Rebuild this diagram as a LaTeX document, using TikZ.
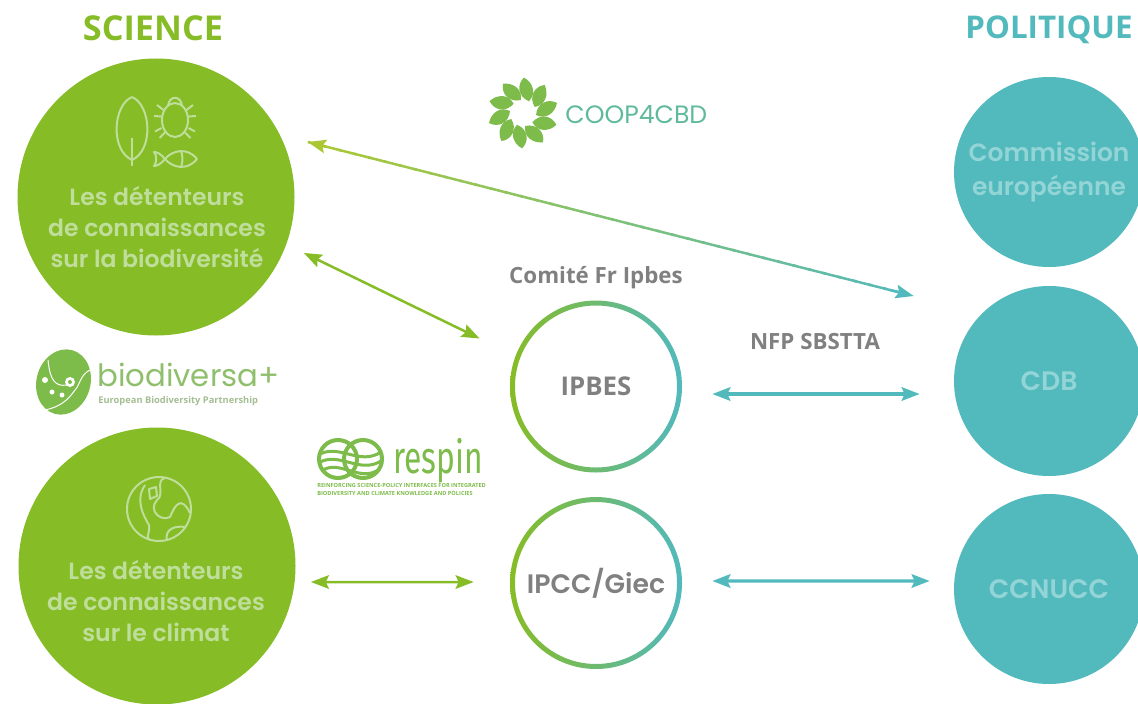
\documentclass[tikz,border=0pt]{standalone}
\usepackage{fontspec}
\usepackage{xcolor}
\setmainfont{Open Sans}
\newfontfamily\popfont[BoldFont={* SemiBold}]{Poppins}
\newfontfamily\firafont{Fira Sans}
\usetikzlibrary{calc, arrows.meta}

\definecolor{scigreen}{HTML}{86BC25}
\definecolor{polteal}{HTML}{52B9BD}
\definecolor{scitext}{HTML}{C0DE9B}
\definecolor{poltext}{HTML}{93D5D6}
\definecolor{greytext}{HTML}{808080}
\definecolor{arrowolive}{HTML}{ABC834}
\definecolor{logogreen}{HTML}{7DBB4A}
\definecolor{logotext}{HTML}{8FBF6C}
\definecolor{logosub}{HTML}{A3BE92}

\tikzset{
    headtip/.style={-{Stealth[length=0.36cm, width=0.27cm, inset=0.06cm]}},
    bothtips/.style={{Stealth[length=0.36cm, width=0.27cm, inset=0.06cm]}-{Stealth[length=0.36cm, width=0.27cm, inset=0.06cm]}},
    greenball/.style={circle, fill=scigreen, minimum size=5.54cm, inner sep=0pt},
    tealball/.style={circle, fill=polteal, minimum size=3.8cm, inner sep=0pt, align=center, text=poltext, font=\popfont\bfseries\fontsize{15.2}{19.4}\selectfont},
    ringball/.style={circle, minimum size=3.44cm, inner sep=0pt, text=greytext},
    balltext/.style={align=center, text=scitext, font=\popfont\bfseries\fontsize{13.4}{17.6}\selectfont},
    heading/.style={font=\bfseries\fontsize{19.5}{22}\selectfont},
    greylabel/.style={text=greytext, font=\bfseries\fontsize{12.7}{14}\selectfont},
    icon/.style={draw=scitext, line width=0.04cm, line join=round},
    sciarrow/.style={draw=scigreen, fill=scigreen, line width=0.05cm, bothtips},
    polarrow/.style={draw=polteal, fill=polteal, line width=0.065cm, bothtips},
}

\begin{document}
\begin{tikzpicture}
        \useasboundingbox (0,0) rectangle (22.76,-14.06);

        %% Headings
        \node (science) [heading, text=scigreen] at (3.06,-0.56) {SCIENCE};
        \node (politique) [heading, text=polteal, font=\bfseries\fontsize{17.8}{22}\selectfont] at (20.98,-0.6) {POLITIQUE};

        %% Left circles
        \node (biodiv) [greenball] at (3.12,-3.94) {};
        \node (climat) [greenball] at (3.14,-11.32) {};
        \node (biodivtext) [balltext] at (3.14,-4.54) {Les détenteurs\\de connaissances\\sur la biodiversité};
        \node (climattext) [balltext] at (3.12,-12.02) {Les détenteurs\\de connaissances\\sur le climat};

        %% Right circles
        \node (commission) [tealball, font=\popfont\bfseries\fontsize{14.2}{19.4}\selectfont] at (20.98,-3.44) {Commission\\européenne};
        \node (cdb) [tealball] at (20.98,-7.62) {\raisebox{-0.05cm}{CDB}};
        \node (ccnucc) [tealball] at (20.98,-11.78) {\raisebox{-0.05cm}{CCNUCC}};

        %% Rings
        \node (ipbes) [ringball, font=\bfseries\fontsize{14.7}{16}\selectfont] at (11.92,-7.73) {IPBES};
        \node (ipcc) [ringball, font=\popfont\bfseries\fontsize{15.2}{16}\selectfont] at (11.92,-11.66) {IPCC/Giec};
        \shade [left color=scigreen, right color=polteal, even odd rule] (ipbes.center) circle (1.72) (ipbes.center) circle (1.62);
        \shade [left color=scigreen, right color=polteal, even odd rule] (ipcc.center) circle (1.72) (ipcc.center) circle (1.62);

        %% Labels
        \node (comite) [greylabel] at (11.92,-5.56) {Comité Fr Ipbes};
        \node (nfp) [greylabel] at (16.3,-6.84) {NFP SBSTTA};

        %% Arrows
        \draw [sciarrow] ($(biodiv.east) + (0.18,-1.12)$) -- ($(ipbes.west) + (-0.6,0.96)$);
        \draw [sciarrow] ($(climat.east) + (0.3,-0.32)$) -- ($(ipcc.west) + (-0.72,0.02)$);
        \draw [polarrow] ($(ipbes.east) + (0.6,-0.15)$) -- ($(cdb.west) + (-0.68,-0.26)$);
        \draw [polarrow] ($(ipcc.east) + (0.6,0.04)$) -- ($(ccnucc.west) + (-0.48,0.16)$);

        %% Long arrow, green to teal
        \coordinate (longstart) at ($(biodiv.east) + (0.26,1.1)$);
        \coordinate (longend) at ($(cdb.west) + (-0.8,1.7)$);
        \foreach \t in {0,...,38}{
            \pgfmathsetmacro{\mixval}{100-\t*2.5}
            \colorlet{segcolor}{arrowolive!\mixval!polteal}
            \draw [segcolor, line width=0.05cm] ($(longstart)!\t/40!(longend)$) -- ($(longstart)!\t/40+0.03!(longend)$);
        }
        \draw [arrowolive, fill=arrowolive, line width=0.05cm, {Stealth[length=0.36cm, width=0.27cm, inset=0.06cm]}-] (longstart) -- ($(longstart)!0.03!(longend)$);
        \draw [polteal, fill=polteal, line width=0.05cm, headtip] ($(longstart)!0.96!(longend)$) -- (longend);

        %% Leaf, bug, fish
        \draw [icon] (2.64,-1.94) .. controls (2.26,-2.1) and (2.2,-3.0) .. (2.64,-3.2) .. controls (3.08,-3.0) and (3.02,-2.1) .. (2.64,-1.94);
        \draw [icon] (2.64,-2.76) -- (2.64,-3.32);
        \draw [icon] (3.5,-2.4) ellipse (0.26 and 0.34);
        \draw [icon] (3.36,-2.12) .. controls (3.38,-1.9) and (3.62,-1.9) .. (3.64,-2.12);
        \foreach \xa/\ya/\xb/\yb in {3.14/-2.1/3.27/-2.2, 3.08/-2.32/3.23/-2.33, 3.1/-2.63/3.23/-2.56, 3.19/-2.76/3.3/-2.65}{
            \draw [icon] (\xa,\ya) -- (\xb,\yb);
            \draw [icon] ({7-\xa},\ya) -- ({7-\xb},\yb);
        }
        \draw [icon] (3.94,-3.18) .. controls (3.75,-2.94) and (3.45,-3.0) .. (3.3,-3.18) .. controls (3.22,-3.08) and (3.14,-3.04) .. (3.08,-3.04) .. controls (3.14,-3.12) and (3.14,-3.24) .. (3.08,-3.32) .. controls (3.14,-3.32) and (3.22,-3.28) .. (3.3,-3.18) .. controls (3.45,-3.36) and (3.75,-3.42) .. (3.94,-3.18);
        \draw [icon] (3.62,-3.02) .. controls (3.66,-3.12) and (3.66,-3.24) .. (3.62,-3.34);

        %% Globe
        \draw [icon] (3.18,-10.18) circle (0.64);
        \draw [icon] (2.9,-9.7) .. controls (2.7,-10.0) and (2.86,-10.3) .. (2.98,-10.5) .. controls (3.0,-10.7) and (2.9,-10.74) .. (3.0,-10.8);
        \draw [icon] (3.3,-9.56) .. controls (3.1,-9.6) and (3.3,-9.9) .. (3.14,-10.0) .. controls (2.96,-10.2) and (3.2,-10.44) .. (3.4,-10.34) .. controls (3.5,-10.1) and (3.62,-9.9) .. (3.8,-10.26);
        \draw [icon] (3.7,-10.54) .. controls (3.4,-10.5) and (3.3,-10.66) .. (3.34,-10.8);
        \draw [icon] (2.98,-9.78) -- (3.12,-9.74) -- (3.14,-9.92) -- (3.0,-9.98) -- cycle;

        %% Coop4cbd logo
        \foreach \a in {0,36,...,324}{
            \fill [logogreen, shift={(10.46,-2.26)}, rotate=\a] (0.26,-0.04) .. controls (0.28,0.2) and (0.5,0.3) .. (0.68,0.2) .. controls (0.64,0) and (0.46,-0.14) .. (0.26,-0.04);
        }
        \node (coop) [anchor=west, inner sep=0pt, text=polteal!70!logogreen, font=\popfont\fontsize{14.3}{15}\selectfont] at (11.3,-2.3) {COOP4CBD};

        %% Biodiversa logo
        \fill [logogreen, rotate around={-15:(1.27,-7.64)}] (1.27,-7.64) ellipse (0.54 and 0.66);
        \draw [white, line width=0.02cm] (0.96,-7.2) .. controls (1.0,-7.6) and (1.1,-7.74) .. (1.34,-7.7);
        \draw [white, line width=0.02cm] (1.8,-7.4) .. controls (1.6,-7.5) and (1.6,-7.7) .. (1.5,-7.8) .. controls (1.36,-8.0) and (1.2,-8.14) .. (0.9,-8.2);
        \fill [white] (1.4,-7.64) circle (0.1);
        \fill [logogreen] (1.4,-7.64) circle (0.04);
        \fill [white] (0.9,-7.6) circle (0.06) (1.04,-7.84) circle (0.05) (1.24,-7.9) circle (0.05);
        \node (biodiversa) [anchor=west, inner sep=0pt, text depth=0pt, text=logotext, font=\popfont\fontsize{17.5}{18}\selectfont] at (1.94,-7.5) {biodiversa+};
        \node (partnership) [anchor=west, inner sep=0pt, text=logosub, font=\bfseries\fontsize{5.3}{6}\selectfont] at (1.96,-8.03) {European Biodiversity Partnership};

        %% Respin logo
        \draw [logogreen, line width=0.08cm] (6.76,-9.18) circle (0.38);
        \draw [logogreen, line width=0.08cm] (7.26,-9.18) circle (0.38);
        \draw [logogreen, line width=0.06cm] (6.4,-9.08) .. controls (6.8,-8.88) and (7.2,-9.32) .. (7.62,-9.04);
        \draw [logogreen, line width=0.06cm] (6.4,-9.24) .. controls (6.8,-9.04) and (7.2,-9.48) .. (7.62,-9.22);
        \draw [logogreen, line width=0.06cm] (6.46,-9.4) .. controls (6.8,-9.2) and (7.2,-9.64) .. (7.56,-9.4);
        \node (respin) [anchor=base west, inner sep=0pt, text depth=0pt, xscale=0.95, yscale=1.35, text=logogreen, font=\firafont\fontsize{19}{20}\selectfont] at (7.86,-9.46) {respin};
        \node (respinsub) [anchor=north west, inner sep=0pt, align=left, text=logogreen, font=\bfseries\fontsize{3.2}{4.5}\selectfont] at (6.34,-9.66) {REINFORCING SCIENCE-POLICY INTERFACES FOR INTEGRATED\\BIODIVERSITY AND CLIMATE KNOWLEDGE AND POLICIES};

    \end{tikzpicture}
\end{document}
